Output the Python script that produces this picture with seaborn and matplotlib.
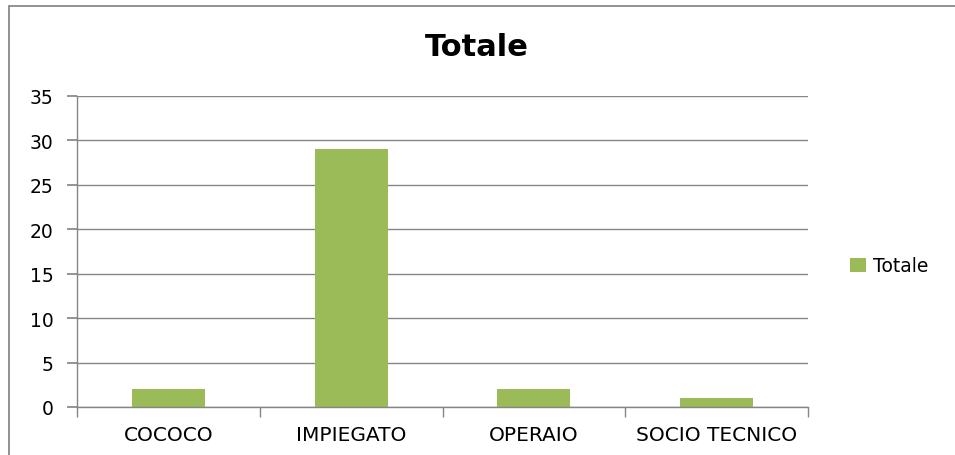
import matplotlib
matplotlib.use("Agg")
import matplotlib.pyplot as plt
import matplotlib.patches as patches
import seaborn as sns
import pandas as pd

# dati
categorie = ["COCOCO", "IMPIEGATO", "OPERAIO", "SOCIO TECNICO"]
totale = [2, 29, 2, 1]
y_ticks = [0, 5, 10, 15, 20, 25, 30, 35]

df = pd.DataFrame({"categoria": categorie, "Totale": totale})

sns.set_theme(style="white")
plt.rcParams["font.family"] = ["DejaVu Sans"]
plt.rcParams["text.color"] = "black"
plt.rcParams["xtick.color"] = "black"
plt.rcParams["ytick.color"] = "black"

W, H = 955, 456
fig = plt.figure(figsize=(W / 100, H / 100), dpi=100)
ax = fig.add_axes([77 / W, 1 - 408 / H, (808 - 77) / W, (408 - 97) / H])

sns.barplot(data=df, x="categoria", y="Totale", color="#9BBB59", width=0.4,
            saturation=1, linewidth=0, label="Totale", ax=ax)

grigio = "#868686"
ax.set_ylim(0, 35)
ax.set_xlim(-0.5, len(categorie) - 0.5)
ax.set_yticks(y_ticks)
ax.yaxis.grid(True, color=grigio, linewidth=1)
ax.set_axisbelow(True)
ax.set_xlabel("")
ax.set_ylabel("")

for s in ["top", "right"]:
    ax.spines[s].set_visible(False)
for s in ["left", "bottom"]:
    ax.spines[s].set_color(grigio)
    ax.spines[s].set_linewidth(1)

ax.tick_params(axis="y", length=7, color=grigio, labelcolor="black",
               labelsize=13.5, pad=10, direction="out", left=True)
ax.set_xticks(range(len(categorie)))
ax.set_xticklabels(categorie, fontsize=14.5)
ax.tick_params(axis="x", which="major", length=0, pad=13, labelcolor="black")
ax.set_xticks([i - 0.5 for i in range(len(categorie) + 1)], minor=True)
ax.tick_params(axis="x", which="minor", length=7, color=grigio,
               direction="out", bottom=True)

fig.text(477 / W, 1 - 48 / H, "Totale", ha="center", va="center",
         fontsize=22, fontweight="bold", color="black")

leg = ax.legend(loc="center left", bbox_to_anchor=(833 / W, 1 - 267 / H),
                bbox_transform=fig.transFigure, frameon=False,
                handlelength=0.85, handleheight=0.85, handletextpad=0.4,
                prop={"family": ["DejaVu Sans"], "size": 13.5})
for t in leg.get_texts():
    t.set_color("black")

# bordo dell'area del grafico
fig.patches.append(patches.Rectangle((9 / W, -0.1), 1.2, 1 - 7 / H + 0.1,
                                     transform=fig.transFigure, fill=False,
                                     edgecolor="#7f7f7f", linewidth=1.2))

fig.savefig("out.png", dpi=100)
